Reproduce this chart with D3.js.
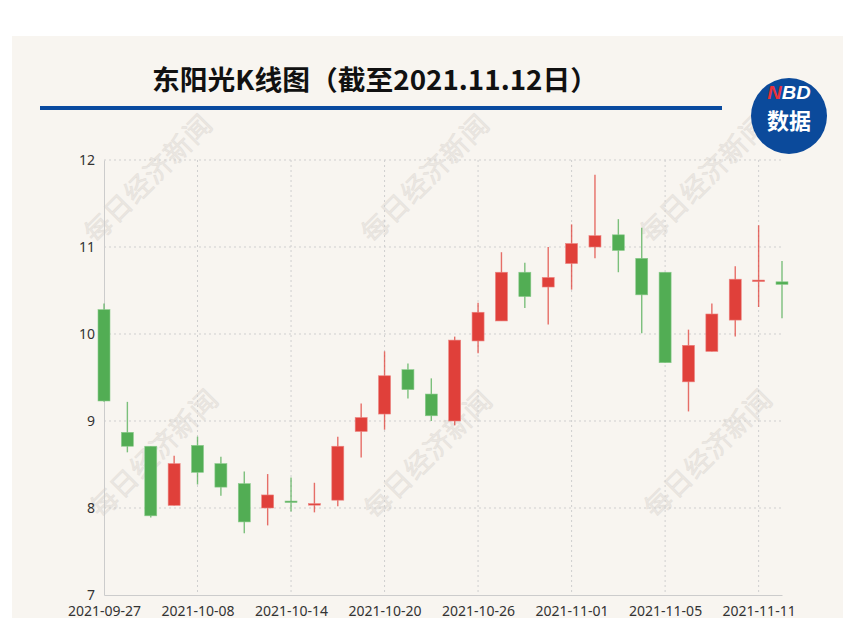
<!DOCTYPE html>
<html><head><meta charset="utf-8">
<script src="https://cdn.jsdelivr.net/npm/d3@7/dist/d3.min.js"></script>
<style>
html,body{margin:0;padding:0;background:#fff;}
svg{display:block;}
</style></head>
<body>
<svg id="chart" width="843" height="618"></svg>
<script>
const titleText = "东阳光K线图（截至2021.11.12日）";
const dates = ["2021-09-27","2021-09-28","2021-09-29","2021-09-30","2021-10-08","2021-10-11","2021-10-12","2021-10-13","2021-10-14","2021-10-15",
  "2021-10-18","2021-10-19","2021-10-20","2021-10-21","2021-10-22","2021-10-25","2021-10-26","2021-10-27","2021-10-28","2021-10-29",
  "2021-11-01","2021-11-02","2021-11-03","2021-11-04","2021-11-05","2021-11-08","2021-11-09","2021-11-10","2021-11-11","2021-11-12"];
const openVals  = [10.28,8.87,8.71,8.03,8.72,8.51,8.28,8.00,8.08,8.04, 8.09,8.88,9.08,9.59,9.31,9.00,9.92,10.15,10.71,10.54, 10.81,11.00,11.14,10.87,10.71,9.45,9.80,10.16,10.61,10.60];
const closeVals = [9.23,8.71,7.91,8.51,8.41,8.24,7.84,8.15,8.07,8.05, 8.71,9.04,9.52,9.36,9.06,9.93,10.25,10.71,10.43,10.65, 11.04,11.13,10.96,10.45,9.67,9.87,10.23,10.63,10.62,10.57];
const lowVals   = [9.22,8.64,7.89,8.03,8.27,8.14,7.71,7.80,7.96,7.95, 8.02,8.58,8.90,9.26,9.00,8.95,9.78,10.15,10.30,10.11, 10.51,10.87,10.71,10.01,9.67,9.11,9.80,9.97,10.31,10.18];
const highVals  = [10.35,9.22,8.71,8.60,8.82,8.59,8.42,8.39,8.35,8.29, 8.82,9.20,9.80,9.66,9.49,9.97,10.36,10.94,10.82,11.00, 11.26,11.83,11.32,11.22,10.71,10.05,10.35,10.78,11.25,10.84];
const yTicks = [7,8,9,10,11,12];
const xTickLabels = ["2021-09-27","2021-10-08","2021-10-14","2021-10-20","2021-10-26","2021-11-01","2021-11-05","2021-11-11"];
const watermark = "每日经济新闻";

const svg = d3.select("#chart");
const W = 843, H = 618;
const pLeft = 104, pRight = 782, pTop = 160, pBottom = 595;
const upColor = "#e0403a", downColor = "#52ad54";

// panel background
svg.append("rect").attr("x",12).attr("y",36).attr("width",W-12).attr("height",H-36).attr("fill","#f8f5f0");

const x = d3.scalePoint().domain(dates).range([pLeft,pRight]);
const y = d3.scaleLinear().domain([7,12]).range([pBottom,pTop]);

// watermarks
const wmPos = [[150,180],[427,180],[706,180],[156,455],[430,456],[710,455]];
svg.append("g").selectAll("text").data(wmPos).join("text")
  .attr("transform",d=>`translate(${d[0]},${d[1]}) rotate(-45)`)
  .attr("text-anchor","middle").attr("dominant-baseline","middle")
  .attr("font-family","'Noto Sans CJK SC'").attr("font-size",27).attr("font-weight","normal")
  .attr("fill","#ebe7e2").attr("stroke","#e4e0da").attr("stroke-width",0.5)
  .attr("letter-spacing",1)
  .text(watermark);

// grid
const grid = svg.append("g");
grid.selectAll("line.h").data(yTicks.filter(t=>t>7)).join("line")
  .attr("x1",pLeft).attr("x2",pRight).attr("y1",d=>y(d)).attr("y2",d=>y(d))
  .attr("stroke","#cfcfcf").attr("stroke-dasharray","2,3").attr("stroke-width",1);
grid.selectAll("line.v").data(xTickLabels.slice(1)).join("line")
  .attr("x1",d=>x(d)).attr("x2",d=>x(d)).attr("y1",pTop).attr("y2",pBottom)
  .attr("stroke","#cfcfcf").attr("stroke-dasharray","2,3").attr("stroke-width",1);

// axes
const yAxis = d3.axisLeft(y).tickValues(yTicks).tickSize(0).tickPadding(9).tickFormat(d3.format("d"));
const gy = svg.append("g").attr("transform",`translate(${pLeft},0)`).call(yAxis);
gy.select(".domain").attr("stroke","#cccccc");
gy.selectAll("text").attr("font-family","'Noto Sans','Open Sans',sans-serif").attr("font-size",14).attr("fill","#333");

const xAxis = d3.axisBottom(x).tickValues(xTickLabels).tickSize(0).tickPadding(11);
const gx = svg.append("g").attr("transform",`translate(0,${pBottom})`).call(xAxis);
gx.select(".domain").attr("stroke","#cccccc");
gx.selectAll("text").attr("font-family","'Noto Sans','Open Sans',sans-serif").attr("font-size",14).attr("fill","#333");

// candles
const data = dates.map((d,i)=>({d, o:openVals[i], c:closeVals[i], l:lowVals[i], h:highVals[i]}));
const bw = 12;
const cg = svg.append("g");
cg.selectAll("line.wick").data(data).join("line")
  .attr("x1",d=>x(d.d)).attr("x2",d=>x(d.d))
  .attr("y1",d=>y(d.h)).attr("y2",d=>y(d.l))
  .attr("stroke",d=>d.c>=d.o?upColor:downColor).attr("stroke-width",1.4).attr("stroke-opacity",0.75);
cg.selectAll("rect.body").data(data).join("rect")
  .attr("x",d=>x(d.d)-bw/2).attr("width",bw)
  .attr("y",d=>y(Math.max(d.o,d.c)))
  .attr("height",d=>Math.max(1.5,Math.abs(y(d.o)-y(d.c))))
  .attr("fill",d=>d.c>=d.o?upColor:downColor)
  .attr("stroke",d=>d.c>=d.o?"#ec8480":"#8ccb8d").attr("stroke-width",0.6);

// title
svg.append("text").attr("x",375).attr("y",90).attr("text-anchor","middle")
  .attr("font-family","'Noto Sans CJK SC'").attr("font-weight","bold").attr("font-size",27)
  .attr("textLength",446).attr("lengthAdjust","spacingAndGlyphs")
  .attr("fill","#111").text(titleText);

// blue rule
svg.append("rect").attr("x",40).attr("y",106).attr("width",682).attr("height",4).attr("fill","#0a4a9f");

// logo
const lg = svg.append("g");
lg.append("circle").attr("cx",789).attr("cy",116).attr("r",38).attr("fill","#0b4a9b");
const nbd = lg.append("text").attr("text-anchor","middle")
  .attr("transform","translate(789,99) scale(1,0.88)")
  .attr("font-family","'Liberation Sans',Arial,sans-serif").attr("font-weight","bold").attr("font-style","italic").attr("font-size",20);
nbd.append("tspan").attr("fill","#e8323c").text("N");
nbd.append("tspan").attr("fill","#ffffff").text("BD");
lg.append("text").attr("text-anchor","middle")
  .attr("transform","translate(789,129)")
  .attr("font-family","'Noto Sans CJK SC'").attr("font-weight","bold").attr("font-size",22)
  .attr("fill","#fff").text("数据");
</script>
</body></html>
